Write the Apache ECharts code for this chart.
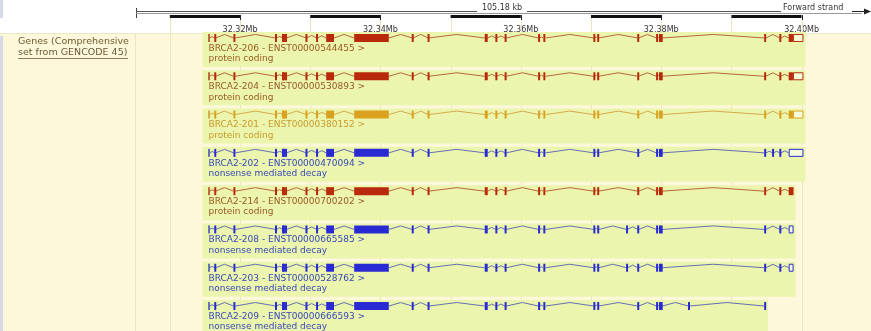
<!DOCTYPE html>
<html><head><meta charset="utf-8">
<script src="https://cdn.jsdelivr.net/npm/echarts@6/dist/echarts.min.js"></script>
<style>html,body{margin:0;padding:0;background:#fff}#c{width:871px;height:331px}</style>
</head><body><div id="c"></div>
<script>
// ---- data ----
const xMin = 32305040, xMax = 32409890;
const tickLabels = [32320000, 32340000, 32360000, 32380000, 32400000];
const rulerBlack = [[32310000,32320000],[32330000,32340000],[32350000,32360000],[32370000,32380000],[32390000,32400000]];
const gridMarks = [32310000,32320000,32330000,32340000,32350000,32360000,32370000,32380000,32390000,32400000];
const regionLabel = '105.18 kb';
const strandLabel = 'Forward strand';
const trackTitle = ['Genes (Comprehensive', 'set from GENCODE 45)'];

const names = ['BRCA2-206','BRCA2-204','BRCA2-201','BRCA2-202','BRCA2-214','BRCA2-208','BRCA2-203','BRCA2-209'];
const ids = ['ENST00000544455','ENST00000530893','ENST00000380152','ENST00000470094','ENST00000700202','ENST00000665585','ENST00000528762','ENST00000666593'];
const biotypes = ['protein coding','protein coding','protein coding','nonsense mediated decay','protein coding','nonsense mediated decay','nonsense mediated decay','nonsense mediated decay'];
const colorKeys = ['pc','pc','gold','nmd','pc','nmd','nmd','nmd'];

const coreExons = [[32315508,32315667],[32316422,32316527],[32319077,32319325],[32325076,32325184],
  [32326101,32326150],[32326242,32326282],[32326499,32326613],[32329443,32329492],[32330919,32331030],
  [32332272,32333387],[32336265,32341196],[32344558,32344653],[32346827,32346896],[32354861,32355288],
  [32356428,32356609],[32357742,32357929],[32362523,32362693],[32363179,32363533],[32370402,32370557],
  [32370956,32371100],[32376670,32376791],[32379317,32379515],[32379750,32379913],[32380007,32380145]];
const tailLong = [[32394689,32394933],[32396898,32397044],[32398162,32400268]];
const tailShort = [[32394689,32394933],[32396898,32397044],[32398162,32398860]];
const extra202 = [[32395880,32396000]];
const extra208 = [[32375080,32375200]];
const extra209 = [[32383900,32384030]];

const ex206 = coreExons.concat(tailLong);
const ex204 = coreExons.concat(tailLong);
const ex201 = coreExons.concat(tailLong);
const ex202 = coreExons.concat([tailLong[0]], extra202, tailLong.slice(1));
const ex214 = coreExons.concat(tailShort);
const ex208 = coreExons.slice(0,20).concat(extra208, coreExons.slice(20), tailShort);
const ex203 = coreExons.slice(0,20).concat(extra208, coreExons.slice(20), tailShort);
const ex209 = coreExons.concat(extra209, [tailLong[0]]);
const exonSets = [ex206, ex204, ex201, ex202, ex214, ex208, ex203, ex209];
const cdsStart = [32316461,32316461,32316461,32316461,32316461,32316461,32316461,32316461];
const cdsEnd = [32398770,32398770,32398770,32397044,32398860,32397044,32397044,32394933];

// ---- styling ----
const palette = {
  pc:   {exon:'#b9290b', line:'#b8683a', text:'#9a5a22'},
  gold: {exon:'#daa11e', line:'#d6aa48', text:'#c99b2e'},
  nmd:  {exon:'#2a2ad4', line:'#6670b4', text:'#3848b8'}
};
const FONT = '"DejaVu Sans", sans-serif';

function renderGrid(params, api) {
  const x = Math.round(api.coord([api.value(0), 0])[0]) + 0.5;
  const cs = params.coordSys;
  return {type:'line', shape:{x1:x, y1:cs.y - 15, x2:x, y2:cs.y + cs.height},
    style:{stroke:'#ece5c2', lineWidth:1}};
}

function renderRuler(params, api) {
  const s = api.coord([api.value(0), 0])[0];
  const e = api.coord([api.value(1), 0])[0];
  const top = params.coordSys.y;
  return {type:'group', children:[
    {type:'rect', shape:{x:s, y:top - 18, width:e - s, height:3}, style:{fill:'#111'}},
    {type:'line', shape:{x1:Math.round(e)+0.5, y1:top - 18, x2:Math.round(e)+0.5, y2:top - 13}, style:{stroke:'#222', lineWidth:1}}
  ]};
}

function renderTranscript(params, api) {
  const i = params.dataIndex;
  const ex = exonSets[i];
  const pal = palette[colorKeys[i]];
  const px = v => api.coord([v, i])[0];
  const yc = api.coord([ex[0][0], i])[1];
  const x0 = px(ex[0][0]);
  const x1 = px(ex[ex.length - 1][1]);
  const ch = [];
  ch.push({type:'rect', shape:{x:x0 - 6, y:yc - 6, width:x1 - x0 + 8, height:35}, style:{fill:'#ebf5ae'}});
  for (let k = 0; k < ex.length - 1; k++) {
    const a = px(ex[k][1]), b = px(ex[k + 1][0]);
    const h = Math.min(3.5, Math.max(1, (b - a) / 4));
    ch.push({type:'polyline', shape:{points:[[a, yc], [(a + b) / 2, yc - h], [b, yc]]},
      style:{stroke:pal.line, lineWidth:1, fill:null}});
  }
  const cs = cdsStart[i], ce = cdsEnd[i];
  ex.forEach(([s, e]) => {
    const xs = px(s), xe = px(e);
    if (xe - xs < 2.5) {
      const coding = e > cs && s < ce;
      const m = (xs + xe) / 2;
      ch.push({type:'rect', shape:{x:m - 1, y:yc - 4, width:2, height:8},
        style:{fill:coding ? pal.exon : pal.line}});
      return;
    }
    const parts = [];
    if (s < cs) parts.push([s, Math.min(e, cs), false]);
    if (e > cs && s < ce) parts.push([Math.max(s, cs), Math.min(e, ce), true]);
    if (e > ce) parts.push([Math.max(s, ce), e, false]);
    parts.forEach(([ps, pe, coding]) => {
      const a = px(ps), b = px(pe);
      if (coding) {
        ch.push({type:'rect', shape:{x:a, y:yc - 4, width:Math.max(b - a, 1.5), height:8}, style:{fill:pal.exon}});
      } else {
        ch.push({type:'rect', shape:{x:a + 0.5, y:yc - 3.5, width:Math.max(b - a - 1, 1), height:7},
          style:{fill:'rgba(255,255,245,0.6)', stroke:pal.exon, lineWidth:1}});
      }
    });
  });
  ch.push({type:'text', style:{text:names[i] + ' - ' + ids[i] + ' >', x:x0, y:yc + 10.5,
    fill:pal.text, fontSize:9, fontFamily:FONT, verticalAlign:'middle', align:'left'}});
  ch.push({type:'text', style:{text:biotypes[i], x:x0, y:yc + 21,
    fill:pal.text, fontSize:9, fontFamily:FONT, verticalAlign:'middle', align:'left'}});
  return {type:'group', children:ch};
}

const chart = echarts.init(document.getElementById('c'), null, {renderer:'canvas'});
chart.setOption({
  animation:false,
  backgroundColor:'#fdf8d9',
  grid:{left:135, right:0, top:33, bottom:0},
  xAxis:{type:'value', min:xMin, max:xMax, position:'top',
    axisLine:{show:false}, axisTick:{show:false}, splitLine:{show:false},
    axisLabel:{customValues:tickLabels, formatter:v => (v / 1e6).toFixed(2) + 'Mb',
      fontSize:8, fontFamily:FONT, color:'#333', margin:-1}},
  yAxis:{type:'value', inverse:true, min:-0.13, max:7.652, show:false},
  graphic:[
    {type:'rect', z:-10, shape:{x:0, y:0, width:871, height:33}, style:{fill:'#ffffff'}},
    {type:'line', z:-5, shape:{x1:0, y1:33.5, x2:871, y2:33.5}, style:{stroke:'#ece6c8', lineWidth:1}},
    {type:'line', z:-5, shape:{x1:135.5, y1:34, x2:135.5, y2:331}, style:{stroke:'#ece5c2', lineWidth:1}},
    {type:'rect', z:-5, shape:{x:0, y:0, width:3, height:18}, style:{fill:'#d6dae6'}},
    {type:'rect', z:-5, shape:{x:0, y:36, width:3, height:295}, style:{fill:'#d6dae6'}},
    {type:'text', style:{text:trackTitle[0], x:18, y:42, fill:'#6b5a36', fontSize:9.5, fontFamily:FONT, verticalAlign:'middle'}},
    {type:'text', style:{text:trackTitle[1], x:18, y:53, fill:'#6b5a36', fontSize:9.5, fontFamily:FONT, verticalAlign:'middle'}},
    {type:'line', shape:{x1:18, y1:58.5, x2:128, y2:58.5}, style:{stroke:'#8a7a58', lineWidth:1}},
    // ruler
    {type:'line', shape:{x1:136.5, y1:8, x2:136.5, y2:18}, style:{stroke:'#444', lineWidth:1}},
    {type:'line', shape:{x1:136, y1:11.5, x2:477, y2:11.5}, style:{stroke:'#555', lineWidth:1}},
    {type:'text', style:{text:regionLabel, x:502, y:7.5, fill:'#333', fontSize:8, fontFamily:FONT, align:'center', verticalAlign:'middle'}},
    {type:'line', shape:{x1:527, y1:11.5, x2:781, y2:11.5}, style:{stroke:'#555', lineWidth:1}},
    {type:'text', style:{text:strandLabel, x:783, y:7.5, fill:'#333', fontSize:8, fontFamily:FONT, align:'left', verticalAlign:'middle'}},
    {type:'line', shape:{x1:852, y1:11.5, x2:866, y2:11.5}, style:{stroke:'#222', lineWidth:1}},
    {type:'polygon', shape:{points:[[864,8.5],[871,11.5],[864,14.5]]}, style:{fill:'#222'}},
    {type:'line', shape:{x1:136, y1:13.5, x2:862, y2:13.5}, style:{stroke:'#999', lineWidth:1}}
  ],
  series:[
    {type:'custom', name:'grid', z:1, clip:false, silent:true, data:gridMarks.map(v => [v, 0]), renderItem:renderGrid},
    {type:'custom', name:'ruler', z:3, clip:false, silent:true, encode:{x:[0,1]}, data:rulerBlack, renderItem:renderRuler},
    {type:'custom', name:'transcripts', z:2, clip:false, silent:true,
      data:names.map((n, i) => [exonSets[i][0][0], i]), renderItem:renderTranscript}
  ]
});
</script></body></html>
